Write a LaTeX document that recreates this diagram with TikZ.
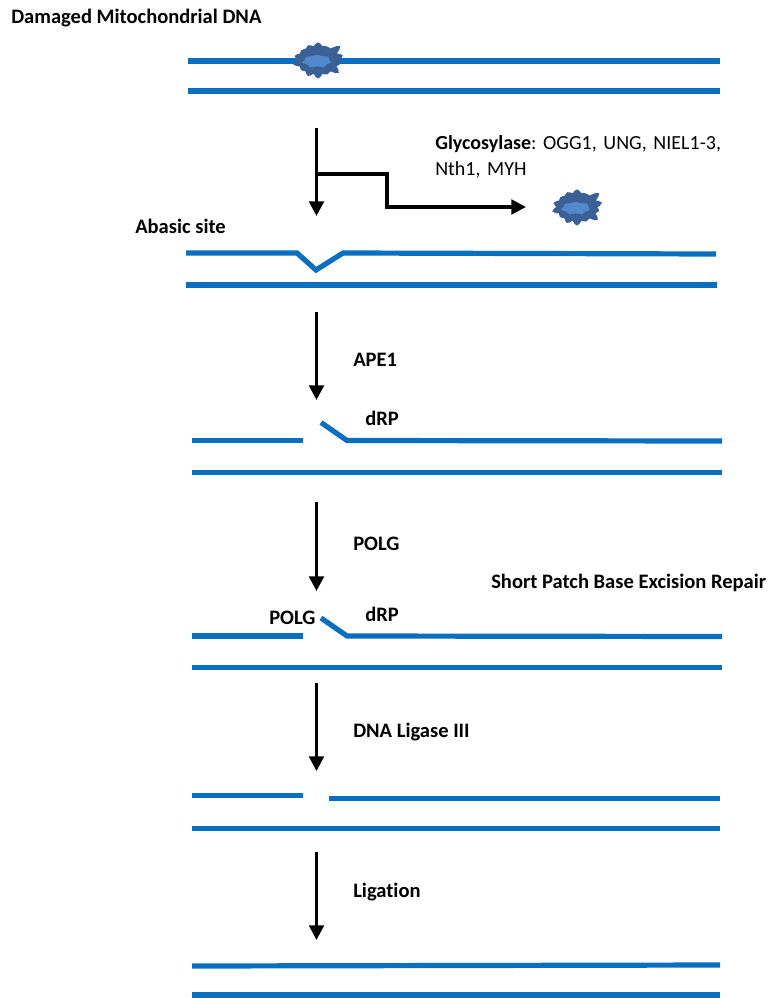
\documentclass[tikz,border=0pt]{standalone}
\usepackage{fontspec}
\setmainfont{Carlito}[Ligatures=NoCommon]
\usepackage{xcolor}
\usetikzlibrary{arrows.meta,shapes.symbols}
\definecolor{strandblue}{HTML}{0A6FBE}
\definecolor{lesiondark}{HTML}{3B6096}
\definecolor{lesionlight}{HTML}{5288CC}
\tikzset{
  strand/.style={draw=strandblue,line width=3.9pt,line join=miter},
  flow/.style={draw=black,line width=2.3pt,-{Triangle[length=11pt,width=11pt]}},
  lbl/.style={font=\fontsize{15.4}{17}\selectfont\bfseries\frenchspacing,inner sep=0pt,anchor=west},
  lesion/.style={shape=starburst,starburst points=14,starburst point height=7pt,random starburst=2,
    fill=lesiondark,draw=lesiondark,line width=2.8pt,rounded corners=1.5pt,inner sep=0pt,minimum width=40pt,minimum height=31pt},
  lesioncore/.style={shape=starburst,starburst points=7,starburst point height=2pt,random starburst=3,
    fill=lesionlight,inner sep=0pt,minimum width=23pt,minimum height=12pt},
}
\begin{document}
\begin{tikzpicture}[x=0.75pt,y=-0.75pt]
  \useasboundingbox (0,0) rectangle (768,998);
  % whole strands
  \foreach \name/\xa/\ya/\xb/\yb in {a/188/61/720/61, b/188/91/720/91, d/186/285/717/285, f/192/472.5/722/472.5,
    h/192/667.5/722/667.5, i/192/795.5/303/795.5, j/329/798.5/720/798.5, k/192/828.5/720/828.5, l/192/966/720/965, m/192/995/720/995} {
    \coordinate (\name1) at (\xa,\ya);
    \coordinate (\name2) at (\xb,\yb);
    \draw[strand] (\name1) -- (\name2);
  }
  % strands with a gap or a dip
  \coordinate (c1) at (186,253);
  \coordinate (c2) at (297,253);
  \coordinate (c3) at (316,270);
  \coordinate (c4) at (343,253);
  \coordinate (c5) at (716,254);
  \draw[strand] (c1) -- (c2) -- (c3) -- (c4) -- (c5);
  \foreach \name/\y in {e/440.5,g/636} {
    \coordinate (\name1) at (192,\y);
    \coordinate (\name2) at (303,\y);
    \coordinate (\name3) at (321,\y-18);
    \coordinate (\name4) at (347,\y);
    \coordinate (\name5) at (722,\y+0.5);
    \draw[strand] (\name1) -- (\name2);
    \draw[strand] (\name3) -- (\name4) -- (\name5);
  }
  % arrows
  \foreach \name/\ya/\yb in {p/128/216, q/312/400, r/502/591, s/683/771, t/852/940} {
    \coordinate (\name1) at (316.5,\ya);
    \coordinate (\name2) at (316.5,\yb);
    \draw[flow] (\name1) -- (\name2);
  }
  \coordinate (u1) at (316.5,174);
  \coordinate (u2) at (387,174);
  \coordinate (u3) at (387,207);
  \coordinate (u4) at (526,207);
  \draw[flow] (u1) -- (u2) -- (u3) -- (u4);
  % lesions
  \node[lesion] (lesion1) at (318,60) {};
  \node[lesioncore] (core1) at (317,61) {};
  \node[lesion] (lesion2) at (577,207) {};
  \node[lesioncore] (core2) at (576,208) {};
  % labels
  \node[lbl] (damaged) at (11,18.5) {Damaged Mitochondrial DNA};
  \node[lbl] (abasic) at (135,226.5) {Abasic site};
  \node[lbl] (ape) at (353,359.5) {APE1};
  \node[lbl] (drp1) at (365,418.5) {dRP};
  \node[lbl] (polg1) at (353,543.5) {POLG};
  \node[lbl] (short) at (491,582.5) {Short Patch Base Excision Repair};
  \node[lbl] (polg2) at (269,617.5) {POLG};
  \node[lbl] (drp2) at (365,614.5) {dRP};
  \node[lbl] (ligase) at (353,732.5) {DNA Ligase III};
  \node[lbl] (ligation) at (353,892.5) {Ligation};
  \node[lbl,font=\fontsize{15}{20}\selectfont\frenchspacing,align=left,anchor=north west,text width=300pt] (glyco) at (435,135)
    {\textbf{Glycosylase}: OGG1, UNG, NIEL1-3,\\Nth1, MYH};
\end{tikzpicture}
\end{document}
